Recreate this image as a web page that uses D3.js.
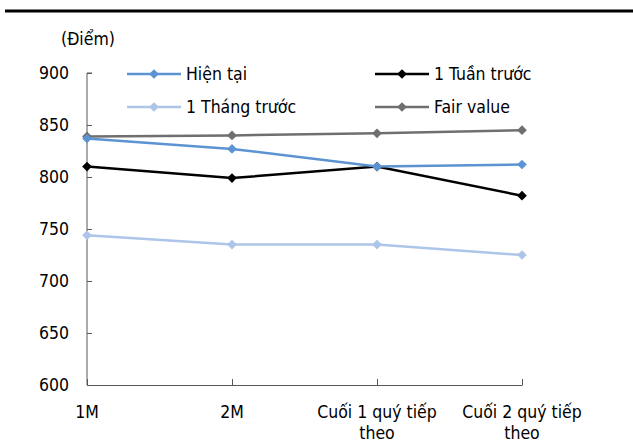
<!DOCTYPE html>
<html>
<head>
<meta charset="utf-8">
<script src="https://cdn.jsdelivr.net/npm/d3@7"></script>
<style>
  body { margin: 0; background: #fff; }
  svg { display: block; font-family: "DejaVu Sans Condensed", "DejaVu Sans", sans-serif; }
</style>
</head>
<body>
<svg id="chart" width="633" height="443"></svg>
<script>
// categories and series
var categories = ["1M", "2M", "Cuối 1 quý tiếp theo", "Cuối 2 quý tiếp theo"];
var hienTai = [837, 827, 810, 812];
var tuanTruoc = [810, 799, 810, 782];
var thangTruoc = [744, 735, 735, 725];
var fairValue = [839, 840, 842, 845];
var yTicks = [600, 650, 700, 750, 800, 850, 900];

var series = [
  { name: "Hiện tại", values: hienTai, color: "#5b93d3" },
  { name: "1 Tuần trước", values: tuanTruoc, color: "#000000" },
  { name: "1 Tháng trước", values: thangTruoc, color: "#adc5e8" },
  { name: "Fair value", values: fairValue, color: "#6f6f6f" }
];

var svg = d3.select("#chart");
var axisColor = "#595959";
var fontSize = 17.5;

// top rule
svg.append("line")
  .attr("x1", 5).attr("x2", 633)
  .attr("y1", 11).attr("y2", 11)
  .attr("stroke", "#000").attr("stroke-width", 3);

var x = d3.scalePoint().domain(categories).range([87, 522]);
var y = d3.scaleLinear().domain([600, 900]).range([385, 73]);

// y axis
var gy = svg.append("g").attr("transform", "translate(87,0)")
  .call(d3.axisRight(y).tickValues(yTicks).tickSize(5).tickFormat(""));
gy.select(".domain").attr("stroke", axisColor).attr("d", "M5,73H0V385");
gy.selectAll(".tick line").attr("stroke", axisColor);

svg.append("g").selectAll("text")
  .data(yTicks).enter().append("text")
  .attr("x", 69).attr("y", function (d) { return y(d); })
  .attr("dy", "0.36em")
  .attr("text-anchor", "end")
  .attr("font-size", fontSize)
  .text(function (d) { return d; });

// x axis
var gx = svg.append("g").attr("transform", "translate(0,385)")
  .call(d3.axisTop(x).tickSize(6).tickSizeOuter(0).tickFormat(""));
gx.select(".domain").attr("stroke", axisColor);
gx.selectAll(".tick line").attr("stroke", axisColor);

svg.append("g").selectAll("text")
  .data(categories).enter().append("text")
  .attr("x", function (d) { return x(d); })
  .attr("text-anchor", "middle")
  .attr("font-size", fontSize)
  .each(function (d) {
    var t = d3.select(this);
    var lines = d.length > 10 ? [d.replace(/ theo$/, ""), "theo"] : [d];
    lines.forEach(function (s, i) {
      t.append("tspan").attr("x", x(d)).attr("y", 418 + i * 21).text(s);
    });
  });

// unit label
svg.append("text")
  .attr("x", 61).attr("y", 45)
  .attr("font-size", fontSize)
  .text("(Điểm)");

var diamond = d3.symbol().type(d3.symbolDiamond2).size(60);
var line = d3.line()
  .x(function (d, i) { return x(categories[i]); })
  .y(function (d) { return y(d); });

// series lines
var plot = svg.append("g");
series.slice().reverse().forEach(function (s) {
  var g = plot.append("g");
  g.append("path")
    .datum(s.values)
    .attr("d", line)
    .attr("fill", "none")
    .attr("stroke", s.color)
    .attr("stroke-width", 2.5);
  g.selectAll("path.m")
    .data(s.values).enter().append("path")
    .attr("class", "m")
    .attr("d", diamond)
    .attr("transform", function (d, i) { return "translate(" + x(categories[i]) + "," + y(d) + ")"; })
    .attr("fill", s.color);
});

// legend
var legendPos = [[127, 74], [375, 74], [127, 107], [375, 107]];
series.forEach(function (s, i) {
  var p = legendPos[i];
  var g = svg.append("g").attr("transform", "translate(" + p[0] + "," + p[1] + ")");
  g.append("line").attr("x1", 0).attr("x2", 54)
    .attr("stroke", s.color).attr("stroke-width", 2.5);
  g.append("path").attr("d", diamond).attr("transform", "translate(27,0)").attr("fill", s.color);
  g.append("text").attr("x", 59).attr("dy", "0.36em")
    .attr("font-size", fontSize)
    .text(s.name);
});
</script>
</body>
</html>
